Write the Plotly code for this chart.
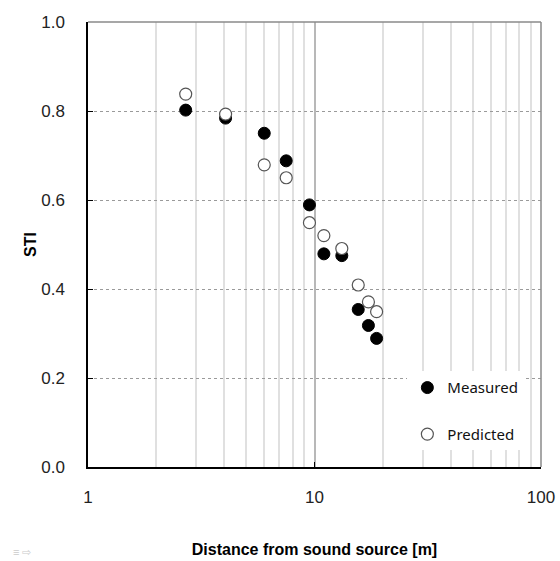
import plotly.graph_objects as go

# Distance from the sound source [m] and speech transmission index
distance = [2.7, 4.05, 6.0, 7.5, 9.5, 11.0, 13.2, 15.6, 17.3, 18.8]
sti_measured = [0.802, 0.784, 0.750, 0.688, 0.589, 0.479, 0.475, 0.354, 0.318, 0.289]
sti_predicted = [0.838, 0.793, 0.679, 0.650, 0.549, 0.520, 0.491, 0.409, 0.371, 0.349]

x_ticks = [1, 10, 100]
x_tick_labels = ["1", "10", "100"]
y_ticks = [0.0, 0.2, 0.4, 0.6, 0.8, 1.0]
y_tick_labels = ["0.0", "0.2", "0.4", "0.6", "0.8", "1.0"]

fig = go.Figure()
fig.add_trace(go.Scatter(
    x=distance, y=sti_measured, mode="markers", name="Measured",
    legendgroup="m",
    marker=dict(size=12, color="black", line=dict(color="black", width=1)),
))
fig.add_trace(go.Scatter(
    x=distance, y=sti_predicted, mode="markers", name="Predicted",
    legendgroup="p",
    marker=dict(size=12, color="white", line=dict(color="#555555", width=1.2)),
))

fig.update_layout(
    width=560, height=561,
    margin=dict(l=88, r=19, t=22, b=94, autoexpand=False),
    paper_bgcolor="white", plot_bgcolor="white",
    font=dict(family="Liberation Sans, Arial, sans-serif", size=17, color="#222222"),
    showlegend=True,
    legend=dict(
        x=0.705, y=0.215, xanchor="left", yanchor="top",
        bgcolor="white", borderwidth=0,
        font=dict(family="Noto Sans, sans-serif", size=15, color="#111111"),
        tracegroupgap=24, itemwidth=30,
    ),
    xaxis=dict(
        type="log", range=[0, 2],
        tickvals=x_ticks, ticktext=x_tick_labels,
        ticks="inside", ticklen=5, tickcolor="black", tickwidth=1,
        ticklabelstandoff=14,
        showline=True, linecolor="black", linewidth=1.5,
        showgrid=True, gridcolor="#b8b8b8", gridwidth=1.5,
        minor=dict(dtick="D1", showgrid=True, gridcolor="#e0e0e0", gridwidth=1.5, ticks=""),
        zeroline=False,
        title=dict(text="<b>Distance from sound source [m]</b>", standoff=38,
                   font=dict(size=16, color="black")),
    ),
    yaxis=dict(
        range=[0, 1],
        tickvals=y_ticks, ticktext=y_tick_labels,
        ticks="inside", ticklen=5, tickcolor="black", tickwidth=1,
        ticklabelstandoff=18,
        showline=True, linecolor="black", linewidth=1.5,
        showgrid=True, gridcolor="#9a9a9a", gridwidth=1, griddash="dot",
        zeroline=False,
        title=dict(text="<b>STI</b>", standoff=1, font=dict(size=16, color="black")),
    ),
)

# gray frame on the top and right sides of the plot area
fig.add_shape(type="line", xref="paper", yref="paper", x0=0, x1=1, y0=1, y1=1,
              line=dict(color="#8a8a8a", width=1.5))
fig.add_shape(type="line", xref="paper", yref="paper", x0=1, x1=1, y0=0, y1=1,
              line=dict(color="#8a8a8a", width=1.5))

# small toolbar glyphs in the lower-left corner
fig.add_annotation(text="≡ ⇨", xref="paper", yref="paper", x=-0.17, y=-0.19,
                   xanchor="left", yanchor="middle", showarrow=False,
                   font=dict(size=11, color="#cccccc"))

fig.write_html("out.html")
